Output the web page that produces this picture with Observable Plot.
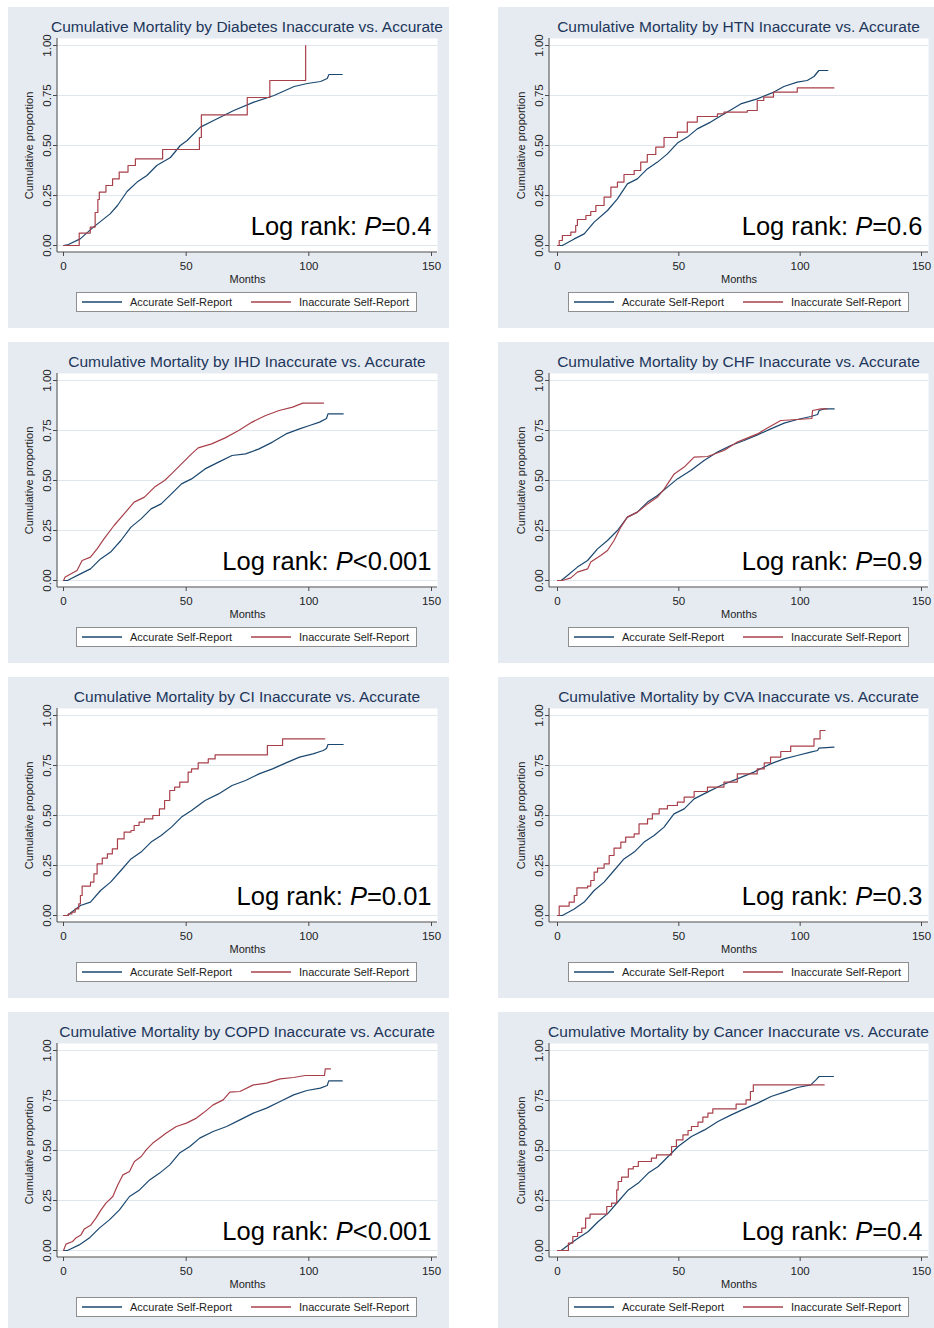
<!DOCTYPE html>
<html>
<head>
<meta charset="utf-8">
<script src="https://cdn.jsdelivr.net/npm/d3@7"></script>
<script src="https://cdn.jsdelivr.net/npm/@observablehq/plot@0.6"></script>
<style>
  html, body { margin: 0; padding: 0; background: #ffffff; }
  body { width: 934px; height: 1328px; overflow: hidden; position: relative; font-family: "Liberation Sans", Arial, sans-serif; }
  .panel { position: absolute; background: #e6ebf2; height: 321px; overflow: hidden; }
  .title { position: absolute; top: 12px; white-space: nowrap; transform: translateX(-50%); font-size: 15.5px; line-height: 15.5px; color: #21365a; }
  .panel svg.plot { position: absolute; left: 0; top: 31px; overflow: visible; }
  .legend { position: absolute; top: 285px; height: 20px; width: 341px; background: #ffffff; border: 1px solid #8e8e8e; box-sizing: border-box; font-size: 11px; color: #222; }
  .legend svg { position: absolute; left: 0; top: 0; }
  .legend .lb { position: absolute; top: 0; line-height: 18px; white-space: nowrap; }
</style>
</head>
<body>
<div id="root"></div>
<script>
// ---------- data (months, cumulative proportion) ----------
const series = ["Accurate Self-Report", "Inaccurate Self-Report"];
const xTicks = [0, 50, 100, 150];
const yTicks = [0, 0.25, 0.5, 0.75, 1];

const titles = [
  "Cumulative Mortality by Diabetes Inaccurate vs. Accurate",
  "Cumulative Mortality by HTN Inaccurate vs. Accurate",
  "Cumulative Mortality by IHD Inaccurate vs. Accurate",
  "Cumulative Mortality by CHF Inaccurate vs. Accurate",
  "Cumulative Mortality by CI Inaccurate vs. Accurate",
  "Cumulative Mortality by CVA Inaccurate vs. Accurate",
  "Cumulative Mortality by COPD Inaccurate vs. Accurate",
  "Cumulative Mortality by Cancer Inaccurate vs. Accurate"
];
const pValues = ["=0.4", "=0.6", "<0.001", "=0.9", "=0.01", "=0.3", "<0.001", "=0.4"];

const diabetesAccurate = [[0,0],[2,0.005],[6.8,0.033],[12.2,0.092],[19,0.158],[22,0.2],[25.9,0.27],[30,0.317],[34,0.35],[38,0.4],[43.6,0.44],[47.6,0.5],[50.4,0.525],[55.8,0.592],[61.2,0.625],[69.4,0.675],[77.6,0.717],[85.8,0.75],[94,0.795],[99.4,0.81],[104.8,0.82],[107.5,0.835],[108.2,0.855],[113.6,0.855]];
const diabetesInaccurate = [[0,0],[6.4,0.062],[10.9,0.092],[12.9,0.165],[14,0.23],[14.6,0.267],[17.3,0.3],[20,0.333],[22.7,0.367],[26.3,0.4],[29.3,0.433],[40.4,0.48],[55.4,0.54],[56.2,0.653],[74.9,0.74],[84.1,0.825],[98.7,1.0]];

const htnAccurate = [[0,0],[2,0],[6.9,0.033],[11,0.058],[15.1,0.117],[20.6,0.175],[24.7,0.233],[28.8,0.308],[32.9,0.333],[37,0.383],[41.2,0.417],[45.3,0.458],[49.4,0.512],[53.5,0.542],[57.6,0.583],[63.1,0.617],[68.6,0.658],[75.5,0.708],[82.3,0.733],[89.2,0.767],[93.3,0.795],[98.8,0.817],[102.9,0.825],[105.7,0.845],[107.7,0.875],[111.4,0.875]];
const htnInaccurate = [[0,0],[0.7,0.025],[2,0.05],[5.5,0.067],[7.5,0.1],[8.2,0.13],[11.7,0.15],[13.7,0.17],[15.8,0.2],[19.2,0.242],[22,0.292],[24.7,0.317],[27.4,0.355],[31.6,0.375],[34.3,0.417],[37,0.455],[40.5,0.492],[43.9,0.54],[49.4,0.567],[53.5,0.617],[57.6,0.645],[65.9,0.658],[68.6,0.667],[78.2,0.675],[82.3,0.725],[85,0.742],[89,0.767],[98.8,0.788],[113.9,0.788]];

const ihdAccurate = [[0,0],[1.6,0],[6.9,0.033],[11,0.058],[15.1,0.108],[19.2,0.142],[23.4,0.2],[27.5,0.267],[31.6,0.308],[35.7,0.358],[39.8,0.383],[44,0.433],[48.1,0.483],[52.2,0.508],[57.7,0.558],[63.2,0.592],[68.7,0.625],[74.2,0.633],[79.7,0.658],[85.2,0.692],[90.7,0.733],[96.2,0.758],[100.3,0.775],[104.4,0.792],[107.2,0.81],[107.8,0.833],[114,0.833]];
const ihdInaccurate = [[0,0],[0.7,0.017],[5.5,0.05],[7.6,0.1],[11,0.117],[13.7,0.158],[16.5,0.208],[20.6,0.275],[24.7,0.333],[28.8,0.392],[33,0.417],[37.1,0.467],[41.2,0.5],[44,0.533],[48.1,0.583],[52.2,0.633],[54.9,0.663],[60.4,0.683],[65.9,0.713],[71.4,0.75],[76.9,0.792],[82.4,0.825],[87.9,0.85],[93.4,0.867],[97.5,0.887],[106,0.887]];

const chfAccurate = [[0,0],[1.5,0],[4.1,0.025],[8.2,0.067],[12.4,0.1],[16.5,0.158],[20.6,0.2],[24.7,0.25],[28.8,0.317],[32.9,0.342],[37.1,0.392],[41.2,0.425],[45.3,0.467],[49.4,0.508],[54.9,0.55],[60.4,0.6],[65.9,0.642],[71.4,0.675],[76.9,0.7],[82.4,0.728],[87.9,0.758],[93.4,0.787],[98.8,0.805],[104.4,0.82],[107.2,0.83],[107.8,0.85],[110,0.858],[114,0.858]];
const chfInaccurate = [[0,0],[2,0],[5.5,0.013],[8.2,0.042],[12.4,0.058],[13.7,0.092],[17.8,0.125],[20.6,0.15],[23.3,0.2],[26.1,0.267],[28.8,0.317],[33,0.342],[37.1,0.383],[41.2,0.417],[44,0.458],[48.1,0.533],[52.2,0.567],[56.3,0.617],[61.8,0.62],[68.6,0.65],[74.1,0.692],[82.4,0.733],[86.5,0.763],[92,0.8],[98.8,0.805],[104.8,0.81],[105.1,0.85],[108.5,0.858],[111,0.858]];

const ciAccurate = [[0,0],[1.5,0],[6.9,0.05],[11,0.067],[15.1,0.125],[19.2,0.167],[23.4,0.225],[27.5,0.283],[31.6,0.317],[35.7,0.367],[39.8,0.4],[44,0.442],[48.1,0.492],[52.2,0.525],[57.7,0.575],[63.2,0.608],[68.7,0.65],[74.2,0.675],[79.7,0.708],[85.2,0.733],[90.7,0.763],[96.2,0.792],[101.7,0.808],[105.9,0.825],[107.2,0.835],[107.8,0.855],[114,0.855]];
const ciInaccurate = [[0,0],[2,0.008],[3.4,0.017],[4.8,0.033],[6.2,0.058],[6.9,0.1],[7.6,0.147],[11,0.167],[12.4,0.208],[13.7,0.258],[15.8,0.287],[17.9,0.308],[19.9,0.333],[22,0.383],[24.7,0.417],[27.5,0.425],[28.8,0.45],[30.8,0.467],[33,0.483],[36.4,0.5],[39.1,0.533],[41.2,0.575],[43.3,0.625],[45.3,0.642],[47.4,0.667],[50.8,0.717],[52.2,0.733],[54.9,0.763],[59,0.783],[61.8,0.803],[83.1,0.85],[89.3,0.883],[106.5,0.883]];

const cvaAccurate = [[0,0],[2,0],[6.9,0.033],[11,0.067],[15.1,0.125],[19.2,0.167],[23.3,0.225],[27.4,0.283],[31.6,0.317],[35.7,0.367],[39.8,0.4],[43.9,0.442],[48,0.508],[52.2,0.533],[56.3,0.583],[61.8,0.617],[67.3,0.65],[74.1,0.683],[80.9,0.717],[87.8,0.758],[93.3,0.783],[98.8,0.8],[104.3,0.817],[107.2,0.825],[107.7,0.837],[113.9,0.842]];
const cvaInaccurate = [[0,0],[0.7,0.047],[4.8,0.067],[6.9,0.1],[8,0.138],[12.4,0.147],[13.7,0.175],[15.1,0.217],[16.5,0.237],[19.2,0.258],[21.3,0.3],[23.3,0.337],[26.1,0.367],[28.1,0.392],[31.6,0.408],[33.6,0.458],[37.1,0.483],[39.1,0.508],[41.9,0.533],[45.3,0.55],[49.4,0.567],[52.2,0.592],[56.3,0.62],[61.8,0.642],[68.6,0.667],[74.1,0.708],[82.3,0.733],[85.2,0.763],[87.8,0.792],[92,0.82],[96.1,0.847],[105.7,0.883],[108.2,0.925],[110.3,0.925]];

const copdAccurate = [[0,0],[1.6,0],[6.4,0.028],[10.5,0.062],[14.6,0.112],[18.7,0.153],[22.8,0.203],[26.9,0.27],[31,0.303],[35.1,0.353],[39.2,0.387],[43.3,0.428],[47.3,0.487],[51.5,0.52],[55.5,0.562],[61,0.595],[66.5,0.62],[71.9,0.653],[77.4,0.687],[82.8,0.712],[88.3,0.745],[93.8,0.778],[99.2,0.8],[104.7,0.812],[107.5,0.825],[108.1,0.848],[113.6,0.848]];
const copdInaccurate = [[0,0],[1,0.032],[3.7,0.045],[5,0.062],[7.1,0.078],[8.5,0.108],[11.2,0.128],[13.2,0.162],[15.3,0.203],[17.3,0.237],[20.1,0.27],[22.1,0.328],[24.2,0.378],[26.9,0.395],[28.9,0.445],[31.7,0.47],[33.7,0.503],[36.4,0.537],[39.2,0.562],[41.9,0.587],[46,0.62],[50.1,0.637],[54.2,0.662],[56.9,0.687],[61,0.728],[65.1,0.753],[67.8,0.792],[71.9,0.795],[77.4,0.828],[82.8,0.837],[88.3,0.858],[93.8,0.865],[98.5,0.875],[106.4,0.875],[106.7,0.908],[108.8,0.908]];

const cancerAccurate = [[0,0],[1.5,0],[4.5,0.028],[8.6,0.062],[12.7,0.095],[16.8,0.145],[20.9,0.187],[25,0.245],[29.2,0.303],[33.3,0.337],[37.4,0.387],[41.5,0.42],[45.6,0.47],[49.7,0.52],[55.2,0.57],[60.6,0.603],[66.1,0.645],[71.6,0.678],[77,0.708],[82.5,0.737],[88,0.77],[93.5,0.792],[98.9,0.815],[104.4,0.828],[106.5,0.853],[107.8,0.87],[113.7,0.87]];
const cancerInaccurate = [[0,0],[4.5,0.037],[6.3,0.07],[8.3,0.09],[10,0.112],[11.6,0.162],[13.4,0.182],[20.3,0.22],[22.3,0.237],[24.4,0.303],[25,0.345],[26.4,0.367],[29.2,0.408],[31.2,0.42],[33.3,0.445],[38.7,0.462],[40.8,0.478],[47,0.52],[49,0.553],[51.7,0.578],[53.8,0.6],[55.2,0.62],[57.9,0.642],[59.9,0.667],[62,0.687],[64,0.708],[73.6,0.732],[77.7,0.753],[79.5,0.795],[80.7,0.828],[109.9,0.828]];

// ---------- layout / style ----------
const colors = ["#1a476f", "#a8404a"];
const accurateSets = [diabetesAccurate, htnAccurate, ihdAccurate, chfAccurate, ciAccurate, cvaAccurate, copdAccurate, cancerAccurate];
const inaccurateSets = [diabetesInaccurate, htnInaccurate, ihdInaccurate, chfInaccurate, ciInaccurate, cvaInaccurate, copdInaccurate, cancerInaccurate];
const steppedInaccurate = [true, true, false, false, true, true, false, true];

const cols = [
  {left: 8, width: 441, mL: 49, mR: 12, iL: 6, iR: 6, legL: 68},
  {left: 498, width: 436, mL: 51, mR: 6, iL: 8, iR: 7, legL: 70}
];
const rowTops = [7, 342, 677, 1012];
const FONT = '"Liberation Sans", Arial, sans-serif';
const SVGNS = "http://www.w3.org/2000/svg";

function axisLines(index, scales, values, dims) {
  const {width, height, marginLeft, marginRight, marginTop, marginBottom} = dims;
  return d3.create("svg:path")
    .attr("d", `M${marginLeft},${marginTop}V${height - marginBottom}H${width - marginRight}`)
    .attr("fill", "none").attr("stroke", "#4a4a4a").attr("stroke-width", 1)
    .node();
}

const root = document.getElementById("root");

titles.forEach((title, i) => {
  const c = cols[i % 2];
  const top = rowTops[Math.floor(i / 2)];
  const panel = document.createElement("div");
  panel.className = "panel";
  panel.style.left = c.left + "px";
  panel.style.top = top + "px";
  panel.style.width = c.width + "px";
  root.appendChild(panel);

  const t = document.createElement("div");
  t.className = "title";
  t.textContent = title;
  t.style.left = ((c.mL + (c.width - c.mR)) / 2) + "px";
  panel.appendChild(t);

  const acc = accurateSets[i].map(([m, p]) => ({m, p, s: series[0]}));
  const inacc = inaccurateSets[i].map(([m, p]) => ({m, p, s: series[1]}));

  const svg = Plot.plot({
    width: c.width,
    height: 252,
    marginTop: 0, marginBottom: 38, marginLeft: c.mL, marginRight: c.mR,
    insetTop: 7, insetBottom: 7, insetLeft: c.iL, insetRight: c.iR,
    style: {background: "transparent", fontFamily: FONT, color: "#222"},
    x: {domain: [0, 150]},
    y: {domain: [0, 1]},
    color: {domain: series, range: colors},
    marks: [
      Plot.frame({fill: "#ffffff", stroke: "none"}),
      Plot.gridY(yTicks, {stroke: "#e0e6ee", strokeOpacity: 1, strokeWidth: 1}),
      axisLines,
      Plot.axisX(xTicks, {tickSize: 4, tickPadding: 5, fontSize: 11.5, label: null, stroke: "#4a4a4a", fill: "#222"}),
      Plot.axisY(yTicks, {tickSize: 4, tickPadding: 2.5, tickRotate: -90, fontSize: 11.5, label: null, tickFormat: d3.format(".2f"), stroke: "#4a4a4a", fill: "#222"}),
      Plot.text(["Cumulative proportion"], {frameAnchor: "left", rotate: -90, textAnchor: "middle", lineAnchor: "bottom", dx: -25, fontSize: 11, fill: "#222"}),
      Plot.text(["Months"], {frameAnchor: "bottom", lineAnchor: "top", dy: 23, fontSize: 11, fill: "#222"}),
      Plot.line(acc, {x: "m", y: "p", stroke: "s", curve: "linear", strokeWidth: 1.2}),
      Plot.line(inacc, {x: "m", y: "p", stroke: "s", curve: steppedInaccurate[i] ? "step-after" : "linear", strokeWidth: 1.2}),
      Plot.text([`Log rank: P${pValues[i]}`], {frameAnchor: "bottom-right", textAnchor: "end", lineAnchor: "bottom", dx: -6, dy: -18, fontSize: 25.5, fill: "#000"})
    ]
  });
  svg.classList.add("plot");
  // italic P in the log-rank annotation
  svg.querySelectorAll("text").forEach(el => {
    const s = el.textContent;
    if (s.startsWith("Log rank: P")) {
      const rest = s.slice("Log rank: P".length);
      el.textContent = "";
      const a = document.createElementNS(SVGNS, "tspan");
      a.textContent = "Log rank: ";
      const b = document.createElementNS(SVGNS, "tspan");
      b.textContent = "P"; b.setAttribute("font-style", "italic");
      const d = document.createElementNS(SVGNS, "tspan");
      d.textContent = rest;
      el.append(a, b, d);
    }
  });
  panel.appendChild(svg);

  const leg = document.createElement("div");
  leg.className = "legend";
  leg.style.left = c.legL + "px";
  const ls = document.createElementNS(SVGNS, "svg");
  ls.setAttribute("width", 339); ls.setAttribute("height", 18);
  series.forEach((name, k) => {
    const x0 = k === 0 ? 5 : 174;
    const ln = document.createElementNS(SVGNS, "line");
    ln.setAttribute("x1", x0); ln.setAttribute("x2", x0 + 40);
    ln.setAttribute("y1", 9); ln.setAttribute("y2", 9);
    ln.setAttribute("stroke", colors[k]); ln.setAttribute("stroke-width", 1.3);
    ls.appendChild(ln);
  });
  leg.appendChild(ls);
  series.forEach((name, k) => {
    const lb = document.createElement("div");
    lb.className = "lb";
    lb.style.left = (k === 0 ? 53 : 222) + "px";
    lb.textContent = name;
    leg.appendChild(lb);
  });
  panel.appendChild(leg);
});
</script>
</body>
</html>
